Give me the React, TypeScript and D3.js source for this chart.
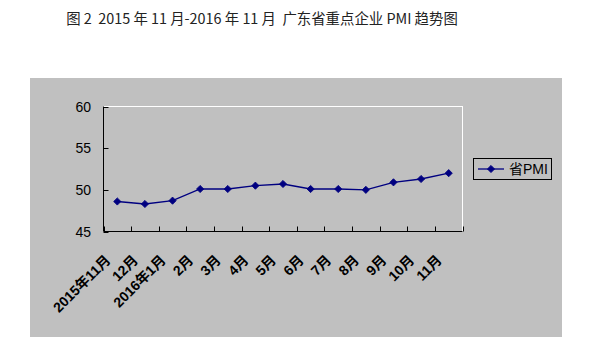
import React from "react";
import * as d3 from "d3";

const titleText = "图 2  2015 年 11 月-2016 年 11 月  广东省重点企业 PMI 趋势图";
const categories = ["2015年11月", "12月", "2016年1月", "2月", "3月", "4月", "5月", "6月", "7月", "8月", "9月", "10月", "11月"];
const pmiValues = [48.6, 48.3, 48.7, 50.1, 50.1, 50.5, 50.7, 50.1, 50.1, 50.0, 50.9, 51.3, 52.0];
const yTicks = [45, 50, 55, 60];
const seriesName = "省PMI";

const W = 590;
const H = 358;
const plot = { left: 103.5, right: 462.5, top: 106.5, bottom: 231.5 };
const NAVY = "#000080";
const NUM_FONT = "'Liberation Sans', Arial, sans-serif";
const CJK_FONT = "'Liberation Sans', 'Noto Sans CJK SC', sans-serif";

export default function App() {
  const x = d3.scaleBand<string>().domain(categories).range([plot.left, plot.right]).padding(0);
  const y = d3.scaleLinear().domain([45, 60]).range([plot.bottom, plot.top]);
  const line = d3
    .line<number>()
    .x((_, i) => (x(categories[i]) as number) + x.bandwidth() / 2)
    .y((d) => y(d));
  const marker = d3.symbol().type(d3.symbolSquare).size(26)() as string;
  const boundaries = d3.range(categories.length + 1).map((i) => plot.left + i * x.bandwidth());

  return (
    <svg width={W} height={H} style={{ position: "absolute", left: 0, top: 0, background: "#fff" }}>
      <text
        x={262}
        y={24}
        textAnchor="middle"
        fontFamily="'Noto Sans CJK SC', sans-serif"
        fontSize={14.4}
        fill="#222"
        style={{ whiteSpace: "pre" }}
      >
        {titleText}
      </text>
      <rect x={30} y={78} width={532} height={259} fill="#C0C0C0" />
      {/* plot border (white) */}
      <rect
        x={plot.left}
        y={plot.top}
        width={plot.right - plot.left}
        height={plot.bottom - plot.top}
        fill="none"
        stroke="#fff"
        strokeWidth={1}
      />
      {/* axes */}
      <line x1={plot.left} x2={plot.left} y1={plot.top} y2={plot.bottom} stroke="#000" />
      <line x1={plot.left} x2={plot.right} y1={plot.bottom} y2={plot.bottom} stroke="#000" />
      {yTicks.map((t) => (
        <g key={t}>
          <line x1={plot.left} x2={plot.left + 5} y1={Math.round(y(t)) + 0.5} y2={Math.round(y(t)) + 0.5} stroke="#000" />
          <text
            x={91}
            y={y(t)}
            dy="0.36em"
            textAnchor="end"
            fontFamily={NUM_FONT}
            fontSize={14}
            fill="#000"
          >
            {t}
          </text>
        </g>
      ))}
      {boundaries.map((bx, i) => (
        <line key={i} x1={Math.round(bx) + 0.5} x2={Math.round(bx) + 0.5} y1={plot.bottom} y2={plot.bottom - 5} stroke="#000" />
      ))}
      {categories.map((c) => {
        const cx = (x(c) as number) + x.bandwidth() / 2;
        const ax = cx - 6;
        const ay = 261;
        return (
          <text
            key={c}
            x={ax}
            y={ay}
            textAnchor="end"
            transform={`rotate(-45 ${ax} ${ay})`}
            fontFamily={CJK_FONT}
            fontSize={14}
            fontWeight="bold"
            fill="#000"
          >
            {c}
          </text>
        );
      })}
      <path d={line(pmiValues) as string} fill="none" stroke={NAVY} strokeWidth={1.3} />
      {pmiValues.map((v, i) => (
        <path
          key={i}
          d={marker}
          transform={`translate(${(x(categories[i]) as number) + x.bandwidth() / 2},${y(v)}) rotate(45)`}
          fill={NAVY}
          stroke={NAVY}
          strokeWidth={0.8}
        />
      ))}
      {/* legend */}
      <rect x={473.5} y={158.5} width={78} height={21} fill="none" stroke="#000" />
      <line x1={478} x2={504} y1={169} y2={169} stroke={NAVY} strokeWidth={1.3} />
      <path d={marker} transform="translate(491,169) rotate(45)" fill={NAVY} stroke={NAVY} strokeWidth={0.8} />
      <text x={509} y={169} dy="0.36em" fontFamily={CJK_FONT} fontSize={14} fill="#000">
        {seriesName}
      </text>
    </svg>
  );
}
